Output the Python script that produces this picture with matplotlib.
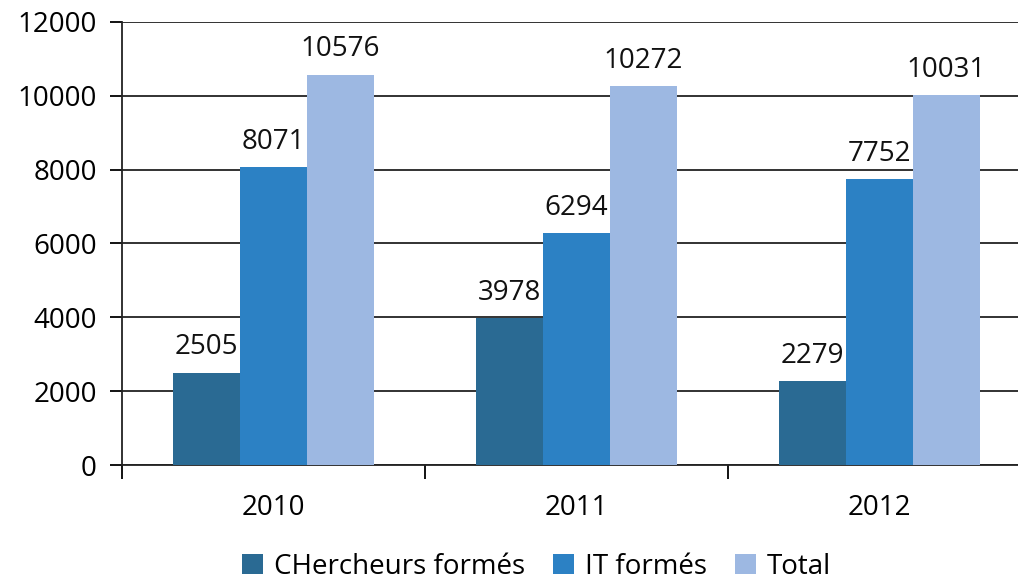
import matplotlib.pyplot as plt
import numpy as np

plt.rcParams['font.family'] = ['Open Sans', 'DejaVu Sans']

# données
annees = ['2010', '2011', '2012']
series = ['CHercheurs formés', 'IT formés', 'Total']
chercheurs = [2505, 3978, 2279]
it_formes = [8071, 6294, 7752]
total = [10576, 10272, 10031]
couleurs = ['#2a6a93', '#2c81c4', '#9db8e2']

valeurs = [chercheurs, it_formes, total]

fig = plt.figure(figsize=(10.18, 5.83), dpi=100)
ax = fig.add_axes([0.1198, 0.2024, 0.8802, 0.7599])

x = np.arange(len(annees))
largeur = 0.221
for i, (nom, vals, c) in enumerate(zip(series, valeurs, couleurs)):
    pos = x + (i - 1) * largeur
    barres = ax.bar(pos, vals, largeur, color=c, label=nom, zorder=3)
    for b, v in zip(barres, vals):
        ax.annotate(str(v), (b.get_x() + b.get_width() / 2, v),
                    xytext=(0, 8), textcoords='offset points',
                    ha='center', va='bottom', fontsize=20, color='#111111')

ax.set_ylim(0, 12000)
ax.set_xlim(-0.5, 2.457)
ax.set_yticks(range(0, 12001, 2000))
ax.yaxis.grid(True, color='#222222', linewidth=1.3, zorder=0)
ax.set_axisbelow(True)

# ticks majeurs aux frontières, étiquettes au centre
ax.set_xticks([-0.5, 0.5, 1.5])
ax.set_xticklabels([])
ax.set_xticks(x, minor=True)
ax.set_xticklabels(annees, minor=True)
ax.tick_params(axis='x', which='major', direction='out', length=10, width=1.3)
ax.tick_params(axis='x', which='minor', length=0, pad=21, labelsize=20)
ax.tick_params(axis='y', direction='out', length=9, width=1.3, pad=9, labelsize=20)

for s in ['top', 'right']:
    ax.spines[s].set_visible(False)
for s in ['left', 'bottom']:
    ax.spines[s].set_color('#222222')
    ax.spines[s].set_linewidth(1.3)

fig.legend(loc='center', bbox_to_anchor=(0.527, 0.028), ncol=3, frameon=False,
           fontsize=20, handlelength=0.75, handleheight=0.75, handletextpad=0.4,
           columnspacing=1.0)

fig.savefig('out.png', dpi=100)
